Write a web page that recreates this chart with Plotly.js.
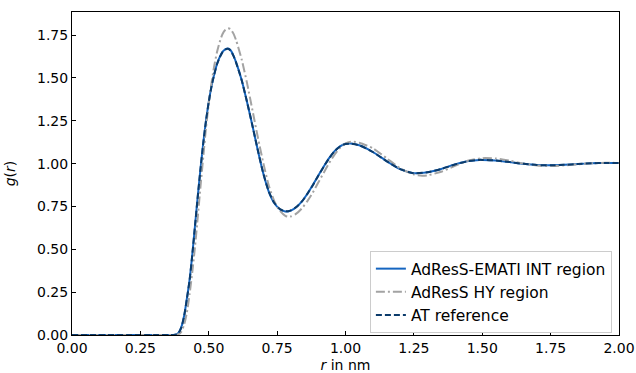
<!DOCTYPE html>
<html>
<head>
<meta charset="utf-8">
<script src="https://cdn.plot.ly/plotly-3.0.1.min.js"></script>
<style>html,body{margin:0;padding:0;background:#fff;}#chart{width:636px;height:373px;}</style>
</head>
<body>
<div id="chart"></div>
<script>
// AT reference / AdResS-EMATI INT region (r in nm)
var rAT = [0.00,0.10,0.20,0.30,0.35,0.37,0.38,0.39,0.40,0.41,0.42,0.43,0.44,0.45,0.46,0.47,0.48,0.49,0.50,0.51,0.52,0.53,0.54,0.55,0.56,0.57,0.58,0.59,0.60,0.62,0.64,0.66,0.68,0.70,0.72,0.74,0.76,0.78,0.79,0.80,0.82,0.84,0.86,0.88,0.90,0.92,0.94,0.96,0.98,1.00,1.02,1.05,1.10,1.15,1.20,1.25,1.30,1.35,1.40,1.45,1.49,1.50,1.55,1.60,1.65,1.70,1.75,1.80,1.85,1.90,1.95,2.00];
var gAT = [0,0,0,0,0,0.0005,0.002,0.013,0.045,0.11,0.21,0.32,0.47,0.64,0.81,0.97,1.12,1.25,1.36,1.45,1.52,1.58,1.62,1.65,1.665,1.67,1.66,1.63,1.59,1.49,1.36,1.22,1.075,0.94,0.835,0.77,0.735,0.722,0.722,0.727,0.747,0.778,0.822,0.873,0.928,0.981,1.031,1.072,1.100,1.115,1.116,1.107,1.068,1.015,0.968,0.944,0.950,0.969,0.995,1.015,1.022,1.022,1.018,1.009,0.999,0.992,0.990,0.993,0.998,1.002,1.004,1.004];
var gEMATI = [0,0,0,0,0,0.0005,0.003,0.014,0.047,0.112,0.212,0.323,0.472,0.642,0.812,0.972,1.121,1.251,1.361,1.451,1.521,1.581,1.622,1.652,1.667,1.672,1.662,1.632,1.591,1.49,1.36,1.22,1.074,0.939,0.834,0.769,0.734,0.721,0.721,0.726,0.746,0.778,0.823,0.874,0.929,0.982,1.032,1.073,1.101,1.116,1.117,1.107,1.068,1.015,0.968,0.944,0.950,0.969,0.995,1.015,1.022,1.022,1.018,1.009,0.999,0.992,0.990,0.993,0.998,1.002,1.004,1.004];
// AdResS HY region
var rHY = [0.00,0.10,0.20,0.30,0.35,0.38,0.39,0.40,0.41,0.42,0.43,0.44,0.45,0.46,0.47,0.48,0.49,0.50,0.51,0.52,0.53,0.54,0.55,0.56,0.57,0.58,0.59,0.60,0.62,0.64,0.66,0.68,0.70,0.72,0.74,0.76,0.78,0.79,0.80,0.82,0.84,0.86,0.88,0.90,0.92,0.94,0.96,0.98,1.00,1.02,1.03,1.05,1.10,1.15,1.20,1.25,1.28,1.30,1.35,1.40,1.45,1.50,1.55,1.60,1.65,1.70,1.75,1.80,1.85,1.90,1.95,2.00];
var gHY = [0,0,0,0,0,0.001,0.005,0.02,0.06,0.13,0.24,0.37,0.52,0.69,0.87,1.04,1.21,1.35,1.47,1.57,1.65,1.71,1.755,1.78,1.79,1.785,1.76,1.72,1.61,1.47,1.31,1.15,1.0,0.87,0.78,0.725,0.695,0.69,0.692,0.708,0.738,0.78,0.83,0.888,0.946,1.003,1.053,1.092,1.118,1.128,1.128,1.122,1.09,1.032,0.973,0.937,0.93,0.932,0.953,0.987,1.018,1.032,1.03,1.017,1.001,0.989,0.986,0.99,0.996,1.002,1.005,1.004];

var names = ['AdResS-EMATI INT region', 'AdResS HY region', 'AT reference'];
var xTicks = [0,0.25,0.5,0.75,1.0,1.25,1.5,1.75,2.0];
var yTicks = [0,0.25,0.5,0.75,1.0,1.25,1.5,1.75];

var traces = [
  {x: rAT, y: gEMATI, name: names[0], mode: 'lines', line: {color: '#1565c0', width: 2, shape: 'spline', smoothing: 0.6}},
  {x: rHY, y: gHY, name: names[1], mode: 'lines', line: {color: '#a3a3a3', width: 2, dash: '9px,3px,2px,3px', shape: 'spline', smoothing: 0.6}},
  {x: rAT, y: gAT, name: names[2], mode: 'lines', line: {color: '#0b3b6b', width: 2, dash: '6px,3px', shape: 'spline', smoothing: 0.6}}
];

var font = {family: 'DejaVu Sans, sans-serif', size: 14, color: '#000'};
var layout = {
  width: 636, height: 373,
  margin: {l: 72, r: 17, t: 12, b: 38},
  paper_bgcolor: '#fff', plot_bgcolor: '#fff',
  font: font,
  showlegend: true,
  legend: {x: 0.987, y: 0.006, xanchor: 'right', yanchor: 'bottom', bgcolor: '#fff', bordercolor: '#cccccc', borderwidth: 1, tracegroupgap: 0, font: {family: 'DejaVu Sans, sans-serif', size: 15.5, color: '#000'}},
  xaxis: {
    range: [0, 2], tickvals: xTicks, tickformat: '.2f', ticks: 'inside', ticklen: 4, tickwidth: 1, tickcolor: '#000',
    showline: true, linecolor: '#000', linewidth: 1, mirror: true, showgrid: false, zeroline: false,
    title: {text: '<i>r</i> in nm', font: font, standoff: 9}
  },
  yaxis: {
    range: [0, 1.885], tickvals: yTicks, tickformat: '.2f', ticks: 'inside', ticklen: 4, tickwidth: 1, tickcolor: '#000',
    showline: true, linecolor: '#000', linewidth: 1, mirror: true, showgrid: false, zeroline: false,
    title: {text: '<i>g</i>(<i>r</i>)', font: font, standoff: 18}
  }
};
Plotly.newPlot('chart', traces, layout, {displayModeBar: false, staticPlot: true});
</script>
</body>
</html>
